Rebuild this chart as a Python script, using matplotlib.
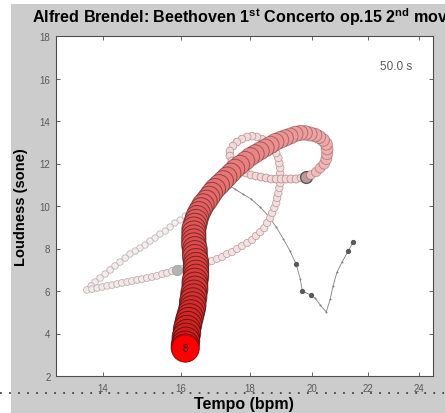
import numpy as np
import matplotlib.pyplot as plt
from matplotlib.lines import Line2D
from matplotlib.patches import Rectangle
from matplotlib.ticker import FixedLocator, NullLocator, FixedFormatter

plt.rcParams['font.family'] = ['Liberation Sans', 'DejaVu Sans']
plt.rcParams['mathtext.fontset'] = 'custom'
plt.rcParams['mathtext.rm'] = 'Liberation Sans'
plt.rcParams['mathtext.bf'] = 'Liberation Sans:bold'

# --- worm data (tempo in bpm, loudness in sone), oldest first ---
thin_tempo = [21.47, 21.28, 21.06, 20.88, 20.74, 20.64, 20.50, 20.29, 20.11, 19.97,
              19.68, 19.61, 19.47, 19.27, 19.05, 18.82, 18.57, 18.31, 18.03, 17.78,
              17.54, 17.33, 17.19, 16.95, 16.75, 16.55, 16.38, 16.24]
thin_loud = [8.31, 7.88, 7.36, 6.89, 6.24, 5.62, 5.01, 5.34, 5.67, 5.81,
             6.00, 6.56, 7.27, 7.88, 8.45, 9.01, 9.53, 9.95, 10.33, 10.56,
             10.80, 10.99, 10.80, 10.56, 10.33, 10.09, 9.91, 9.72]

trail_tempo = [16.11, 15.97, 15.83, 15.70, 15.57, 15.43, 15.30, 15.17, 15.04, 14.91,
               14.79, 14.66, 14.54, 14.41, 14.29, 14.17, 14.05, 13.93, 13.81, 13.72,
               13.62, 13.74, 13.86, 13.98, 14.10, 14.22, 14.34, 14.46, 14.59, 14.71,
               14.84, 14.96, 15.09, 15.22, 15.35, 15.49, 15.62, 15.75, 15.89, 16.02,
               16.16, 16.30, 16.44, 16.58, 16.72, 16.86, 17.01, 17.16, 17.30, 17.45,
               17.60, 17.75, 17.91, 18.06, 18.18, 18.31, 18.44, 18.53, 18.63, 18.69,
               18.76, 18.82, 18.85, 18.89, 18.92, 18.95, 18.95, 18.95, 18.95, 18.92,
               18.89, 18.82, 18.73, 18.63, 18.53, 18.37, 18.21, 18.06, 17.91, 17.75,
               17.60, 17.48, 17.39, 17.39, 17.45, 17.57, 17.72, 17.88, 18.03, 18.18,
               18.34, 18.50, 18.66, 18.82, 18.98, 19.14, 19.30, 19.47, 19.64, 19.81]
trail_loud = [9.53, 9.34, 9.20, 9.01, 8.82, 8.68, 8.49, 8.35, 8.16, 8.02,
              7.88, 7.74, 7.55, 7.36, 7.18, 6.99, 6.80, 6.61, 6.42, 6.24,
              6.05, 6.09, 6.14, 6.19, 6.24, 6.28, 6.33, 6.38, 6.42, 6.47,
              6.52, 6.56, 6.61, 6.66, 6.71, 6.80, 6.85, 6.94, 6.99, 7.04,
              7.08, 7.13, 7.18, 7.22, 7.32, 7.41, 7.51, 7.60, 7.74, 7.83,
              7.98, 8.12, 8.26, 8.40, 8.59, 8.77, 8.96, 9.20, 9.44, 9.67,
              9.91, 10.14, 10.38, 10.61, 10.85, 11.08, 11.32, 11.55, 11.79, 12.02,
              12.26, 12.49, 12.68, 12.87, 13.01, 13.15, 13.25, 13.29, 13.25, 13.15,
              13.01, 12.82, 12.59, 12.35, 12.12, 11.88, 11.69, 11.55, 11.46, 11.41,
              11.36, 11.32, 11.27, 11.27, 11.27, 11.27, 11.27, 11.27, 11.32, 11.36]

worm_tempo = [19.97, 20.15, 20.29, 20.43, 20.50, 20.53, 20.53, 20.50, 20.39, 20.25,
              20.11, 19.94, 19.77, 19.61, 19.44, 19.27, 19.11, 18.95, 18.79, 18.63,
              18.47, 18.31, 18.15, 18.00, 17.85, 17.69, 17.54, 17.42, 17.30, 17.19,
              17.07, 16.95, 16.86, 16.78, 16.70, 16.61, 16.55, 16.49, 16.44, 16.41,
              16.38, 16.35, 16.35, 16.35, 16.35, 16.35, 16.38, 16.38, 16.38, 16.41,
              16.41, 16.41, 16.41, 16.41, 16.38, 16.38, 16.38, 16.35, 16.35, 16.32,
              16.32, 16.30, 16.27, 16.24, 16.21, 16.19, 16.16, 16.16, 16.13, 16.13,
              16.11, 16.11]
worm_loud = [11.46, 11.60, 11.79, 11.98, 12.21, 12.45, 12.68, 12.92, 13.11, 13.25,
             13.34, 13.39, 13.44, 13.44, 13.39, 13.29, 13.20, 13.11, 13.01, 12.87,
             12.73, 12.59, 12.45, 12.31, 12.12, 11.93, 11.74, 11.55, 11.36, 11.18,
             10.99, 10.80, 10.61, 10.42, 10.23, 10.05, 9.86, 9.67, 9.48, 9.29,
             9.10, 8.92, 8.73, 8.54, 8.35, 8.16, 7.98, 7.79, 7.60, 7.41,
             7.22, 7.04, 6.85, 6.66, 6.47, 6.28, 6.09, 5.90, 5.72, 5.53,
             5.34, 5.15, 4.96, 4.77, 4.59, 4.40, 4.21, 4.02, 3.84, 3.65,
             3.46, 3.32]

# points where a bar line fell (index into the full, oldest-first sequence)
bar_idx = [0, 1, 9, 10, 12, 66, 127]
current_bar = 8
elapsed = 50.0

x_ticks = [14, 16, 18, 20, 22, 24]
y_ticks = [2, 4, 6, 8, 10, 12, 14, 16, 18]

title = (r'Alfred Brendel: Beethoven 1$^{\mathbf{st}}$ Concerto op.15 '
         r'2$^{\mathbf{nd}}$ movement')

# --- figure ---
fig = plt.figure(figsize=(4.45, 4.14), dpi=100)
fig.patch.set_facecolor('white')
fig.add_artist(Rectangle((11 / 445, 0), 1, 409 / 414, transform=fig.transFigure,
                         facecolor='#cccccc', edgecolor='none', zorder=-5))
fig.add_artist(Line2D([0, 1], [0.048, 0.048], transform=fig.transFigure,
                      color='#444444', lw=1.3, linestyle=(0, (1, 4))))

ax = fig.add_axes([56 / 445, 37 / 414, 377 / 445, 340 / 414])
ax.set_facecolor('white')
ax.set_xscale('log')
ax.set_xlim(12.92, 24.6)
ax.set_ylim(2, 18)


def px_to_s(d):
    return (d * 0.72) ** 2


all_t = np.array(thin_tempo + trail_tempo + worm_tempo)
all_l = np.array(thin_loud + trail_loud + worm_loud)

# oldest part: thin grey trace
ax.plot(thin_tempo, thin_loud, '-', color='0.5', lw=0.6, zorder=2)
ax.plot(thin_tempo, thin_loud, 'o', ms=1.4, mfc='0.5', mec='0.5', mew=0, zorder=2)

# faded pink trail
n = len(trail_tempo)
f = np.linspace(0, 1, n)[:, None]
face = (1 - f) * np.array([0.96, 0.94, 0.94]) + f * np.array([0.95, 0.83, 0.83])
edge = (1 - f) * np.array([0.76, 0.73, 0.73]) + f * np.array([0.74, 0.58, 0.58])
sizes = px_to_s(6.3 + 1.7 * f[:, 0])
ax.scatter(trail_tempo, trail_loud, s=sizes, c=face, edgecolors=edge,
           linewidths=0.6, zorder=3)

# bar markers
n_thin = len(thin_tempo)
for i in bar_idx:
    if i < n_thin:
        ax.plot(all_t[i], all_l[i], 'o', ms=2.8, mfc='0.35', mec='0.35', zorder=2.5)
    elif i < n_thin + n - 1:
        ax.plot(all_t[i], all_l[i], 'o', ms=7.5, mfc='0.7', mec='0.62', mew=0.5, zorder=3.5)
    else:
        ax.plot(all_t[i], all_l[i], 'o', ms=8.5, mfc=(0.75, 0.6, 0.6), mec='0.35',
                mew=1.0, zorder=3.5)

# recent part: growing red worm
m = len(worm_tempo)
k = np.arange(m)
stops = [0, 17, 41, m - 1]
diam = np.interp(k, stops, [9, 17, 24, 28])
rr = np.interp(k, stops, [0.94, 0.93, 0.88, 0.82])
gg = np.interp(k, stops, [0.74, 0.58, 0.34, 0.10])
bb = np.interp(k, stops, [0.74, 0.58, 0.34, 0.10])
ea = np.interp(k, stops, [0.25, 0.35, 0.55, 0.7])
wface = np.column_stack([rr, gg, bb])
wedge = np.column_stack([0.2 * np.ones(m), 0.05 * np.ones(m), 0.05 * np.ones(m), ea])
ax.scatter(worm_tempo, worm_loud, s=px_to_s(diam), c=wface, edgecolors=wedge,
           linewidths=0.7, zorder=4)

# head
ax.scatter(worm_tempo[-1], worm_loud[-1], s=px_to_s(27), c='#ff0000',
           edgecolors='#c00000', linewidths=0.7, zorder=5)
ax.text(worm_tempo[-1], worm_loud[-1], str(current_bar), ha='center', va='center',
        fontsize=7, color='0.15', zorder=6)

ax.text(0.944, 0.912, f'{elapsed:.1f} s', transform=ax.transAxes, ha='right',
        va='center', fontsize=8.5, color='0.35')

# axes styling
ax.xaxis.set_major_locator(FixedLocator(x_ticks))
ax.xaxis.set_minor_locator(NullLocator())
ax.xaxis.set_major_formatter(FixedFormatter([str(v) for v in x_ticks]))
ax.set_yticks(y_ticks)
ax.tick_params(direction='in', length=3, width=0.6, top=True, right=True,
               labelsize=7, labelcolor='0.35', color='0.3')
ax.tick_params(axis='x', pad=5)
ax.tick_params(axis='y', pad=4)
for sp in ax.spines.values():
    sp.set_color('0.3')
    sp.set_linewidth(0.8)

fig.text(32 / 445, 1 - 17 / 414, title, ha='left', va='center',
         fontsize=11.6, fontweight='bold')
fig.text(244 / 445, 9 / 414, 'Tempo (bpm)', ha='center', va='center',
         fontsize=11.5, fontweight='bold')
fig.text(21 / 445, 0.5, 'Loudness (sone)', ha='center', va='center',
         rotation=90, fontsize=10.5, fontweight='bold')

fig.savefig('out.png', dpi=100)
